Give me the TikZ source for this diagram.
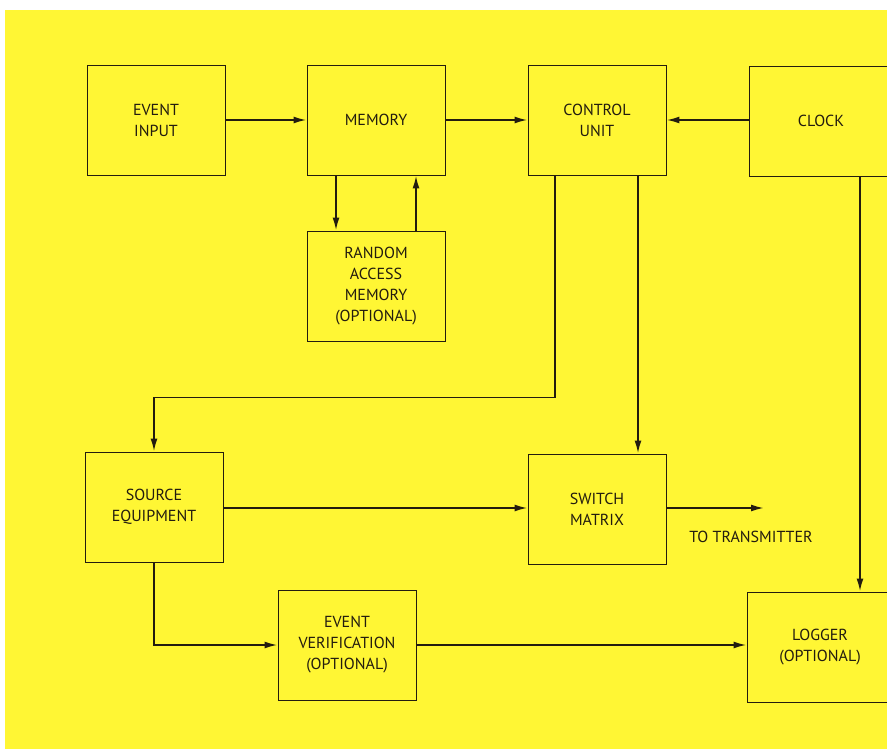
\documentclass[tikz,border=0pt]{standalone}
\usepackage{fontspec}
\setmainfont{PT Sans}
\usetikzlibrary{arrows.meta}
\definecolor{paper}{RGB}{255,246,52}
\definecolor{ink}{RGB}{35,28,15}

\tikzstyle{block} = [draw=ink, line width=0.9pt, minimum width=138pt, minimum height=110pt, inner sep=0pt, align=center, text=ink, font=\fontsize{16}{21}\selectfont]
\tikzstyle{link} = [draw=ink, line width=1.9pt, -{Latex[length=13pt,width=7pt]}]

\begin{document}
\begin{tikzpicture}[x=1pt, y=-1pt]
\useasboundingbox (0,0) rectangle (887,749);
\fill[paper] (5,10) rectangle (887,749);

% top row
\node[block] (input) at (156,120) {EVENT\\INPUT};
\node[block] (memory) at (376,120) {MEMORY};
\node[block] (control) at (597,120) {CONTROL\\UNIT};
\node[block, minimum width=144pt] (clock) at (821,121) {CLOCK};
\node[block] (ram) at (376,286) {RANDOM\\ACCESS\\MEMORY\\(OPTIONAL)};

% bottom part
\node[block] (source) at (154,507) {SOURCE\\EQUIPMENT};
\node[block] (switch) at (597,509) {SWITCH\\MATRIX};
\node[block] (verify) at (347,645) {EVENT\\VERIFICATION\\(OPTIONAL)};
\node[block, minimum width=146pt] (logger) at (820,647) {LOGGER\\(OPTIONAL)};
\coordinate (tx) at (764,508);
\node[text=ink, font=\fontsize{16}{21}\selectfont] (txlabel) at (751,537) {TO TRANSMITTER};

\draw[link] (input) -- (memory);
\draw[link] (memory) -- (control);
\draw[link] (clock.west |- control.east) -- (control.east);
\draw[link] ([xshift=-40pt]memory.south) -- ([xshift=-40pt]ram.north);
\draw[link] ([xshift=40pt]ram.north) -- ([xshift=40pt]memory.south);
\draw[link] ([xshift=-42pt]control.south) -- ++(0,222) -| (source.north);
\draw[link] ([xshift=41pt]control.south) -- ([xshift=41pt]switch.north);
\draw[link] ([xshift=39pt]clock.south) -- ([xshift=40pt]logger.north);
\draw[link] (source.east |- 0,508) -- (switch.west |- 0,508);
\draw[link] (switch.east |- tx) -- (tx);
\draw[link] (source.south) |- (verify.west);
\draw[link] (verify.east) -- (verify.east -| logger.west);
\end{tikzpicture}
\end{document}
